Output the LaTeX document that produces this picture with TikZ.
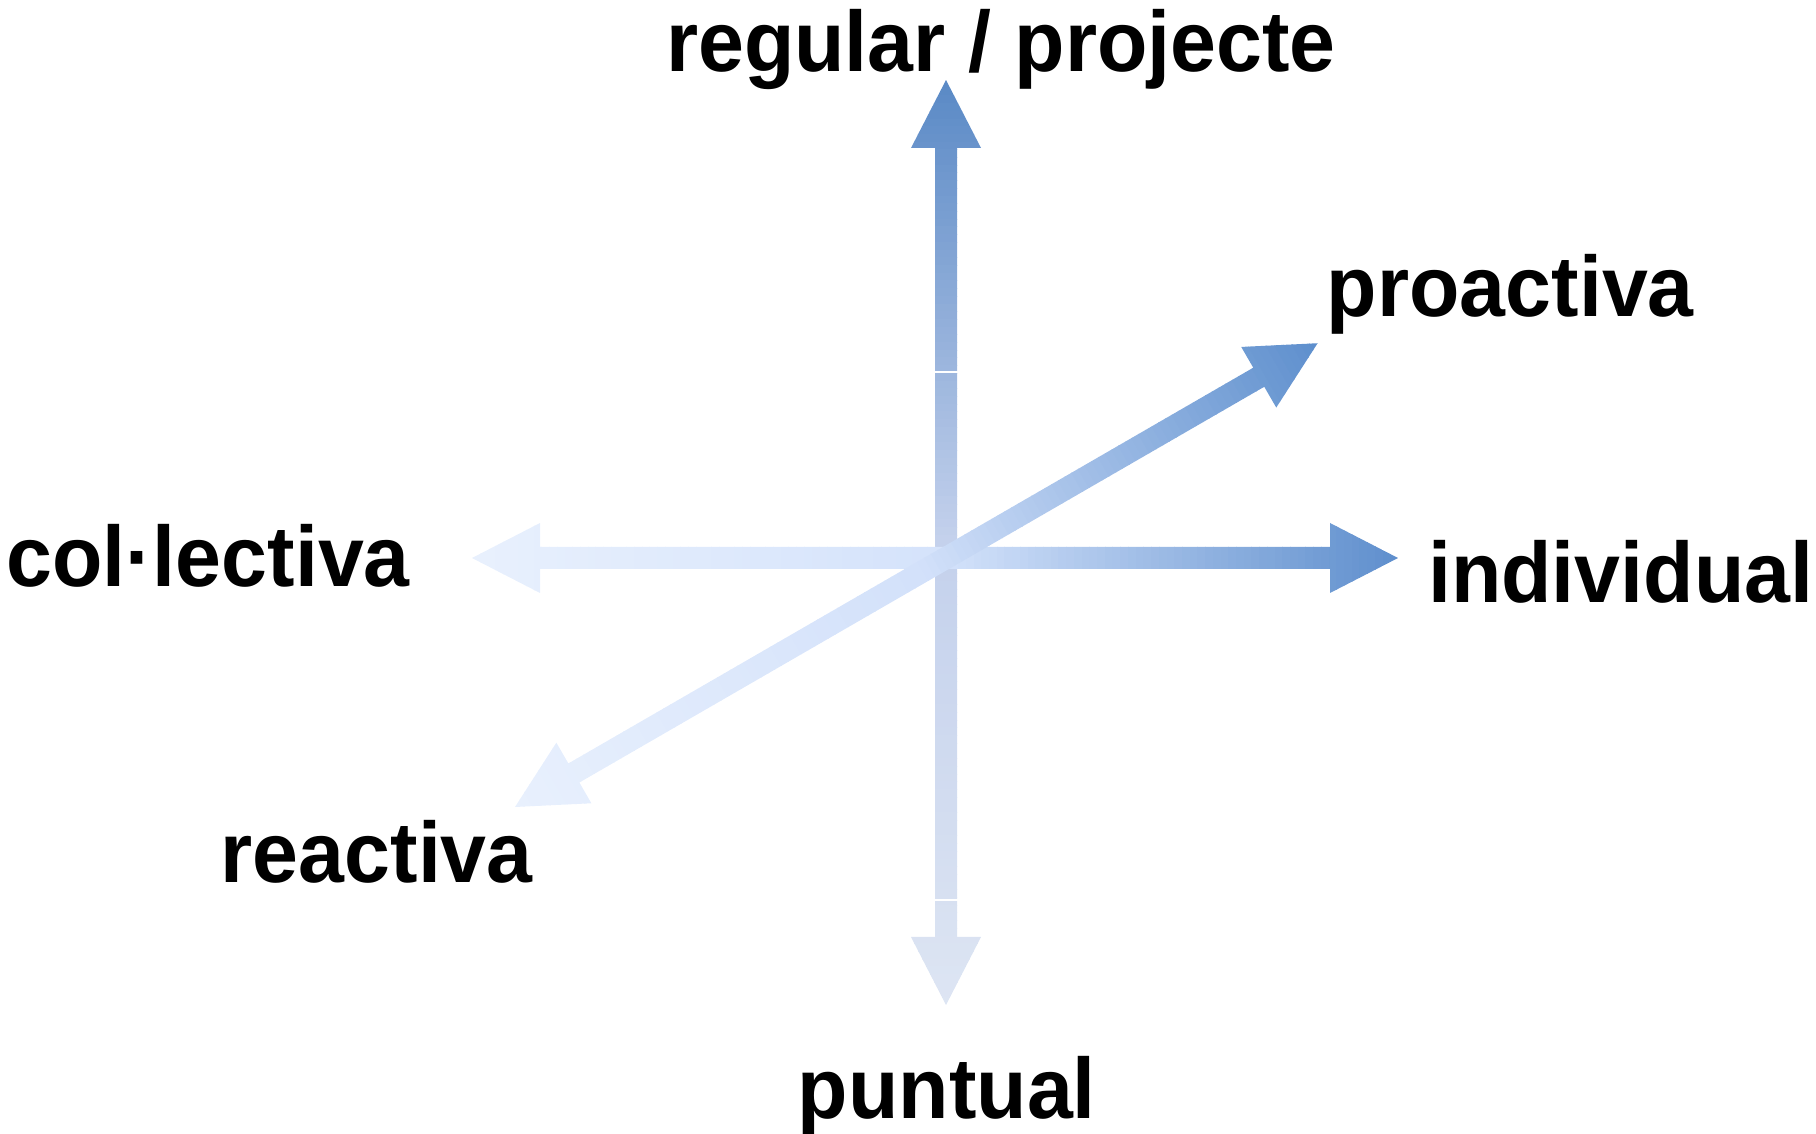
\documentclass[tikz,border=0pt]{standalone}
\usepackage{fontspec}
\setmainfont{Liberation Sans}
\definecolor{vA}{HTML}{5B8AC6}
\definecolor{vM}{HTML}{C4D1EC}
\definecolor{vB}{HTML}{DDE5F3}
\definecolor{hA}{HTML}{E8F0FD}
\definecolor{hM}{HTML}{D5E3FB}
\definecolor{hB}{HTML}{5F8FCD}
\definecolor{dA}{HTML}{E8F0FD}
\definecolor{dM}{HTML}{D3E1FA}
\definecolor{dB}{HTML}{5E8FCD}
\tikzset{
  lbl/.style={font=\fontsize{82.5}{99}\selectfont\bfseries, inner sep=0pt, text=black},
  seam/.style={draw=white, line width=1.2pt}
}
% #1 x, #2 y, #3 angle, #4 length, #5 c0, #6 cmid, #7 c1, #8 name
\newcommand\gradarrow[8]{%
  \begin{scope}[shift={(#1,#2)}, rotate=#3]
    \coordinate (#8-a) at (0,0);
    \coordinate (#8-b) at (#4,0);
    \clip (0,0) -- (68,35) -- (68,11) -- (#4-68,11) -- (#4-68,35) -- (#4,0)
      -- (#4-68,-35) -- (#4-68,-11) -- (68,-11) -- (68,-35) -- cycle;
    \foreach \i in {0,...,119}{%
      \pgfmathsetmacro\xa{\i/120*#4}%
      \pgfmathsetmacro\xb{(\i+1)/120*#4+0.8}%
      \ifnum\i<60
        \pgfmathtruncatemacro\p{100*\i/59}%
        \colorlet{stripc}{#6!\p!#5}%
      \else
        \pgfmathtruncatemacro\p{100*(\i-60)/59}%
        \colorlet{stripc}{#7!\p!#6}%
      \fi
      \fill[stripc] (\xa,-40) rectangle (\xb,40);
    }
  \end{scope}}
\begin{document}
\begin{tikzpicture}[x=1pt,y=1pt]
\useasboundingbox (0,0) rectangle (1816,1133);
% vertical arrow
\gradarrow{946}{1053}{-90}{925}{vA}{vM}{vB}{vert}
\draw[seam] (935,761) -- (958,761);
\draw[seam] (935,233) -- (958,233);
% horizontal arrow
\gradarrow{472}{575}{0}{926}{hA}{hM}{hB}{hor}
% diagonal arrow
\gradarrow{515}{326}{30.02}{927}{dA}{dM}{dB}{diag}
% labels
\node[lbl, anchor=base west] (top) at (666,1061) {\scalebox{1}[1.04]{regular / projecte}};
\node[lbl, anchor=base east] (pro) at (1694,816) {\scalebox{1}[1.04]{proactiva}};
\node[lbl, anchor=base east] (col) at (410,546) {\scalebox{1}[1.04]{col·lectiva}};
\node[lbl, anchor=base west] (ind) at (1428,530) {\scalebox{1}[1.04]{individual}};
\node[lbl, anchor=base east] (rea) at (533,250) {\scalebox{1}[1.04]{reactiva}};
\node[lbl, anchor=base east] (pun) at (1096,14) {\scalebox{1}[1.04]{puntual}};
\end{tikzpicture}
\end{document}
